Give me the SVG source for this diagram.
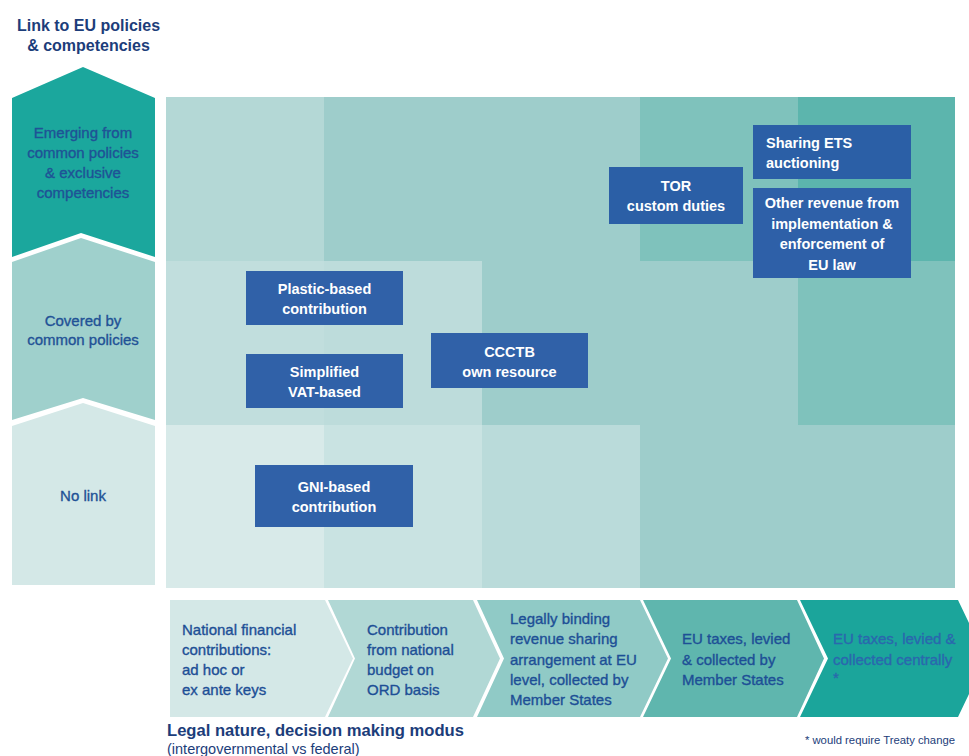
<svg xmlns="http://www.w3.org/2000/svg" width="969" height="756" viewBox="0 0 969 756">
<style>
.hdr{font-family:"Liberation Sans",Arial,sans-serif;font-weight:bold;font-size:16px;fill:#1c3d7a}
.lbl{font-family:"Liberation Sans",Arial,sans-serif;font-size:15px;fill:#1f5296;stroke:#1f5296;stroke-width:0.35;text-anchor:middle}
.box{fill:#3061a8}
.bt{font-family:"Liberation Sans",Arial,sans-serif;font-weight:bold;font-size:14.5px;fill:#ffffff;text-anchor:middle}
.ct{font-family:"Liberation Sans",Arial,sans-serif;font-size:15px;fill:#1d4f96;stroke:#1d4f96;stroke-width:0.35}
.c5{fill:#2a67ae;stroke:#2a67ae}
.foot{font-family:"Liberation Sans",Arial,sans-serif;font-size:14.5px;fill:#1c3d7a}
.footb{font-weight:bold;font-size:16.6px}
</style>
<rect width="969" height="756" fill="#ffffff"/>

<!-- header -->
<g id="header">
<text class="hdr" x="88.5" y="31" text-anchor="middle">Link to EU policies</text>
<text class="hdr" x="88.5" y="51" text-anchor="middle">&amp; competencies</text>
</g>

<!-- left axis arrows -->
<g id="axis-emerging">
<path d="M12,98 L83,67 L155,98 L155,257 L81,233 L12,257 Z" fill="#1ba79d"/>
<text class="lbl" x="83" y="138">Emerging from</text>
<text class="lbl" x="83" y="158">common policies</text>
<text class="lbl" x="83" y="178">&amp; exclusive</text>
<text class="lbl" x="83" y="198">competencies</text>
</g>
<g id="axis-covered">
<path d="M12,262 L81,238 L155,262 L155,420 L83,398 L12,420 Z" fill="#9fd0cc"/>
<text class="lbl" x="83" y="326">Covered by</text>
<text class="lbl" x="83" y="345">common policies</text>
</g>
<g id="axis-nolink">
<path d="M12,426 L83,403 L155,426 L155,585 L12,585 Z" fill="#d4e8e7"/>
<text class="lbl" x="83" y="501">No link</text>
</g>

<!-- grid background -->
<g id="grid">
<rect x="166" y="97" width="158" height="164" fill="#b4d8d6"/>
<rect x="324" y="97" width="316" height="164" fill="#9ecdcb"/>
<rect x="640" y="97" width="158" height="164" fill="#7fc2bc"/>
<rect x="798" y="97" width="157" height="164" fill="#5cb5ad"/>
<rect x="166" y="261" width="158" height="164" fill="#c1dedd"/>
<rect x="324" y="261" width="158" height="164" fill="#bddcdb"/>
<rect x="482" y="261" width="316" height="164" fill="#9ecdcb"/>
<rect x="798" y="261" width="157" height="164" fill="#7fc2bc"/>
<rect x="166" y="425" width="158" height="163" fill="#d8eae9"/>
<rect x="324" y="425" width="158" height="163" fill="#c9e3e2"/>
<rect x="482" y="425" width="158" height="163" fill="#badbda"/>
<rect x="640" y="425" width="315" height="163" fill="#9ecdcb"/>
</g>

<g id="connectors"/>

<!-- revenue boxes -->
<g id="box-plastic">
<rect class="box" x="246" y="271" width="157" height="54"/>
<text class="bt" x="324.5" y="294">Plastic-based</text>
<text class="bt" x="324.5" y="314">contribution</text>
</g>
<g id="box-vat">
<rect class="box" x="246" y="354" width="157" height="54"/>
<text class="bt" x="324.5" y="377">Simplified</text>
<text class="bt" x="324.5" y="397">VAT-based</text>
</g>
<g id="box-ccctb">
<rect class="box" x="431" y="333" width="157" height="55"/>
<text class="bt" x="509.5" y="357">CCCTB</text>
<text class="bt" x="509.5" y="377">own resource</text>
</g>
<g id="box-gni">
<rect class="box" x="255" y="465" width="158" height="62"/>
<text class="bt" x="334" y="492">GNI-based</text>
<text class="bt" x="334" y="512">contribution</text>
</g>
<g id="box-tor">
<rect class="box" x="609" y="167" width="134" height="57" style="fill:#2b5fa6"/>
<text class="bt" x="676" y="191">TOR</text>
<text class="bt" x="676" y="211">custom duties</text>
</g>
<g id="box-ets">
<rect class="box" x="753" y="125" width="158" height="54" style="fill:#2b5fa6"/>
<text class="bt" x="766" y="148" style="text-anchor:start">Sharing ETS</text>
<text class="bt" x="766" y="168" style="text-anchor:start">auctioning</text>
</g>
<g id="box-other">
<rect class="box" x="753" y="188" width="158" height="90" style="fill:#2e60a8"/>
<text class="bt" x="832" y="208">Other revenue from</text>
<text class="bt" x="832" y="229">implementation &amp;</text>
<text class="bt" x="832" y="249">enforcement of</text>
<text class="bt" x="832" y="270">EU law</text>
</g>

<!-- bottom chevrons -->
<g id="chev-1">
<path d="M170,600 L325,600 L353,658.5 L325,717 L170,717 Z" fill="#d4e8e7"/>
<text class="ct" x="182" y="635">National financial</text>
<text class="ct" x="182" y="655">contributions:</text>
<text class="ct" x="182" y="675">ad hoc or</text>
<text class="ct" x="182" y="695">ex ante keys</text>
</g>
<g id="chev-2">
<path d="M328,600 L473,600 L500,658.5 L473,717 L328,717 L355,658.5 Z" fill="#b1d8d5"/>
<text class="ct" x="367" y="635">Contribution</text>
<text class="ct" x="367" y="655">from national</text>
<text class="ct" x="367" y="675">budget on</text>
<text class="ct" x="367" y="695">ORD basis</text>
</g>
<g id="chev-3">
<path d="M477,600 L640,600 L668,658.5 L640,717 L477,717 L504,658.5 Z" fill="#90cac6"/>
<text class="ct" x="510" y="624">Legally binding</text>
<text class="ct" x="510" y="644">revenue sharing</text>
<text class="ct" x="510" y="665">arrangement at EU</text>
<text class="ct" x="510" y="685">level, collected by</text>
<text class="ct" x="510" y="705">Member States</text>
</g>
<g id="chev-4">
<path d="M643,600 L797,600 L824,658.5 L797,717 L643,717 L671,658.5 Z" fill="#5fb6ae"/>
<text class="ct" x="682" y="644">EU taxes, levied</text>
<text class="ct" x="682" y="665">&amp; collected by</text>
<text class="ct" x="682" y="685">Member States</text>
</g>
<g id="chev-5">
<path d="M800,600 L958,600 L986,658.5 L958,717 L800,717 L828,658.5 Z" fill="#1ba59b"/>
<text class="ct c5" x="833" y="644">EU taxes, levied &amp;</text>
<text class="ct c5" x="833" y="665">collected centrally</text>
<text class="ct c5" x="833" y="683">*</text>
</g>

<!-- footer -->
<g id="footer">
<text class="foot footb" x="167" y="736">Legal nature, decision making modus</text>
<text class="foot" x="167" y="754">(intergovernmental vs federal)</text>
<text x="955" y="744" text-anchor="end" font-family="Liberation Sans, Arial, sans-serif" font-size="11.3px" fill="#1c3d7a">* would require Treaty change</text>
</g>
</svg>
